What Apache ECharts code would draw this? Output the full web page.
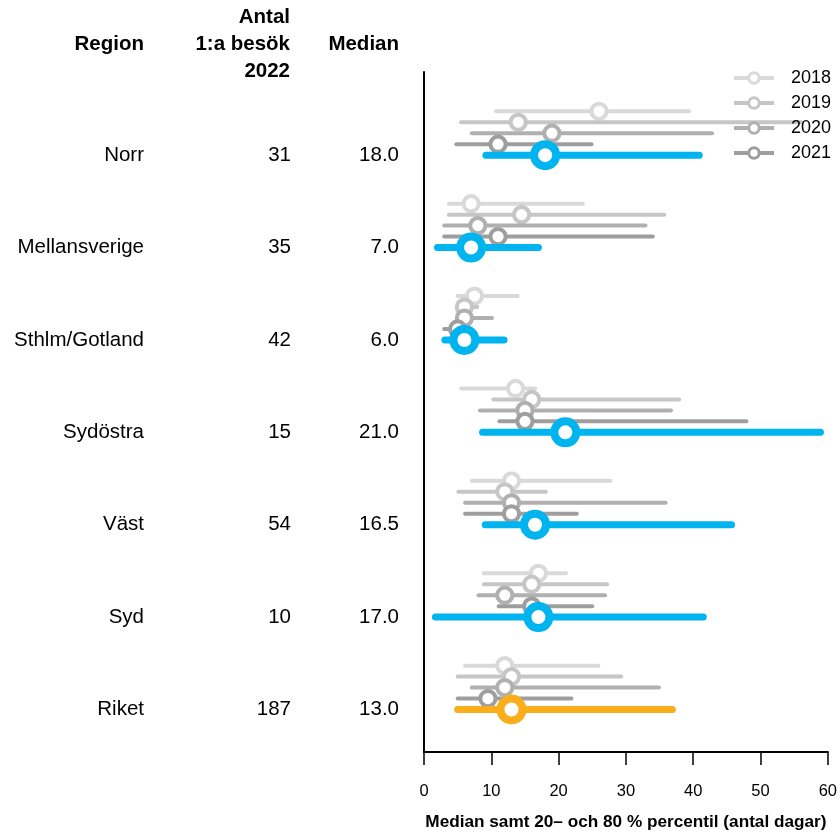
<!DOCTYPE html>
<html>
<head>
<meta charset="utf-8">
<script src="https://cdn.jsdelivr.net/npm/echarts@6/dist/echarts.min.js"></script>
<style>
  html, body { margin: 0; padding: 0; background: #fff; }
  #chart { width: 840px; height: 836px; }
</style>
</head>
<body>
<div id="chart"></div>
<script>
// Regions (rows, top to bottom) and table columns
const regions = ['Norr', 'Mellansverige', 'Sthlm/Gotland', 'Sydöstra', 'Väst', 'Syd', 'Riket'];
const firstVisits2022 = [31, 35, 42, 15, 54, 10, 187];
const years = ['2018', '2019', '2020', '2021', '2022'];
const xTicks = [0, 10, 20, 30, 40, 50, 60];

// Median and 20th / 80th percentile (days) per year, one value per region
const median2018 = [26.0, 7.0, 7.5, 13.6, 13.0, 17.0, 12.0];
const low2018    = [10.7, 3.7, 5.0, 5.5, 7.1, 8.9, 6.1];
const high2018   = [39.4, 23.6, 13.9, 16.5, 27.7, 21.1, 25.9];

const median2019 = [14.0, 14.5, 6.0, 16.0, 12.0, 16.0, 13.0];
const low2019    = [5.5, 3.7, 5.2, 10.3, 5.1, 8.9, 5.0];
const high2019   = [56.1, 35.7, 7.9, 37.9, 18.1, 27.2, 29.3];

const median2020 = [19.0, 8.0, 6.0, 15.0, 13.0, 12.0, 12.0];
const low2020    = [7.1, 3.0, 5.0, 8.3, 6.1, 8.1, 7.1];
const high2020   = [42.8, 32.9, 10.1, 36.7, 35.9, 26.9, 34.9];

const median2021 = [11.0, 11.0, 5.0, 15.0, 13.0, 16.0, 9.5];
const low2021    = [4.8, 3.0, 3.0, 11.2, 6.1, 11.1, 5.0];
const high2021   = [24.9, 34.0, 7.0, 47.9, 22.7, 25.0, 21.9];

const median2022 = [18.0, 7.0, 6.0, 21.0, 16.5, 17.0, 13.0];
const low2022    = [9.2, 2.0, 3.1, 8.7, 9.1, 1.7, 5.0];
const high2022   = [40.9, 17.0, 11.9, 58.9, 45.7, 41.5, 36.9];

const yearColors = ['#d9d9d9', '#c6c6c6', '#b0b0b0', '#9e9e9e'];
const regionColor = '#00b4f0';
const nationColor = '#fbae1c';

const FONT = '"Liberation Sans", Arial, Helvetica, sans-serif';
const ROW_STEP = 0.1187;   // vertical offset between years within a region row

function rangeSeries(yearIdx, low, med, high, colorOf, lineW, radius, ringW) {
  const off = (yearIdx - 4) * ROW_STEP;
  return {
    type: 'custom',
    name: years[yearIdx] + ' intervall',
    data: regions.map((_, i) => [low[i], med[i], high[i], i + off, i]),
    encode: { x: [0, 1, 2], y: 3 },
    clip: false,
    renderItem: function (params, api) {
      const y = api.value(3);
      const a = api.coord([api.value(0), y]);
      const m = api.coord([api.value(1), y]);
      const b = api.coord([api.value(2), y]);
      const color = colorOf(api.value(4));
      return {
        type: 'group',
        children: [
          { type: 'line', shape: { x1: a[0], y1: a[1], x2: b[0], y2: b[1] },
            style: { stroke: color, lineWidth: lineW, lineCap: 'round' } },
          { type: 'circle', shape: { cx: m[0], cy: m[1], r: radius },
            style: { fill: '#fff', stroke: color, lineWidth: ringW } }
        ]
      };
    }
  };
}

function legendSeries(yearIdx) {
  return {
    type: 'line',
    name: years[yearIdx],
    data: [],
    symbol: 'circle',
    lineStyle: { color: yearColors[yearIdx], width: 4 },
    itemStyle: { color: '#fff', borderColor: yearColors[yearIdx], borderWidth: 3 }
  };
}

const lows = [low2018, low2019, low2020, low2021, low2022];
const meds = [median2018, median2019, median2020, median2021, median2022];
const highs = [high2018, high2019, high2020, high2021, high2022];

const series = [];
for (let j = 0; j < 4; j++) {
  series.push(rangeSeries(j, lows[j], meds[j], highs[j], () => yearColors[j], 4, 7.6, 4));
}
series.push(rangeSeries(4, lows[4], meds[4], highs[4],
  i => (regions[i] === 'Riket' ? nationColor : regionColor), 7, 11, 8));
for (let j = 0; j < 4; j++) series.push(legendSeries(j));

const rowIdx = regions.map((_, i) => i);
const yBase = {
  type: 'value', min: -0.9, max: 6.46, inverse: true, position: 'left',
  splitLine: { show: false }, axisTick: { show: false }
};
const tableLabel = { customValues: rowIdx, fontSize: 20.5, color: '#000', fontFamily: FONT, align: 'right' };

const chart = echarts.init(document.getElementById('chart'), null, { renderer: 'canvas' });
chart.setOption({
  animation: false,
  backgroundColor: '#fff',
  grid: { left: 424, right: 11, top: 72, bottom: 82, containLabel: false },
  xAxis: {
    type: 'value', min: xTicks[0], max: xTicks[xTicks.length - 1], interval: 10,
    splitLine: { show: false },
    axisLine: { show: true, onZero: false, lineStyle: { color: '#000', width: 2 } },
    axisTick: { show: true, length: 13, lineStyle: { color: '#000', width: 1.5 } },
    axisLabel: { fontSize: 16.5, color: '#000', margin: 31, fontFamily: FONT },
    name: 'Median samt 20– och 80 % percentil (antal dagar)',
    nameLocation: 'middle', nameGap: 62,
    nameTextStyle: { fontSize: 17.2, fontWeight: 'bold', color: '#000', fontFamily: FONT }
  },
  yAxis: [
    Object.assign({}, yBase, {
      axisLine: { show: true, onZero: false, lineStyle: { color: '#000', width: 2 } },
      axisLabel: Object.assign({}, tableLabel, { margin: 280, formatter: v => regions[Math.round(v)] })
    }),
    Object.assign({}, yBase, {
      axisLine: { show: false },
      axisLabel: Object.assign({}, tableLabel, { margin: 133, formatter: v => String(firstVisits2022[Math.round(v)]) })
    }),
    Object.assign({}, yBase, {
      axisLine: { show: false },
      axisLabel: Object.assign({}, tableLabel, { margin: 25, formatter: v => median2022[Math.round(v)].toFixed(1) })
    })
  ],
  legend: {
    data: years.slice(0, 4),
    orient: 'vertical',
    left: 732, top: 69,
    padding: 0,
    itemWidth: 40, itemHeight: 13, itemGap: 7,
    lineStyle: { width: 4 },
    itemStyle: { borderWidth: 3 },
    textStyle: { fontSize: 18, color: '#000', fontFamily: FONT, padding: [0, 0, 0, 12] },
    selectedMode: false
  },
  graphic: [
    { type: 'text', x: 144, y: 44,
      style: { text: 'Region', align: 'right', verticalAlign: 'middle', fill: '#000',
               fontSize: 20.5, fontWeight: 'bold', fontFamily: FONT } },
    { type: 'text', x: 290, y: 44,
      style: { text: 'Antal\n1:a besök\n2022', align: 'right', verticalAlign: 'middle', fill: '#000',
               fontSize: 20.5, fontWeight: 'bold', fontFamily: FONT, lineHeight: 27 } },
    { type: 'text', x: 399, y: 44,
      style: { text: 'Median', align: 'right', verticalAlign: 'middle', fill: '#000',
               fontSize: 20.5, fontWeight: 'bold', fontFamily: FONT } }
  ],
  series: series
});
</script>
</body>
</html>
